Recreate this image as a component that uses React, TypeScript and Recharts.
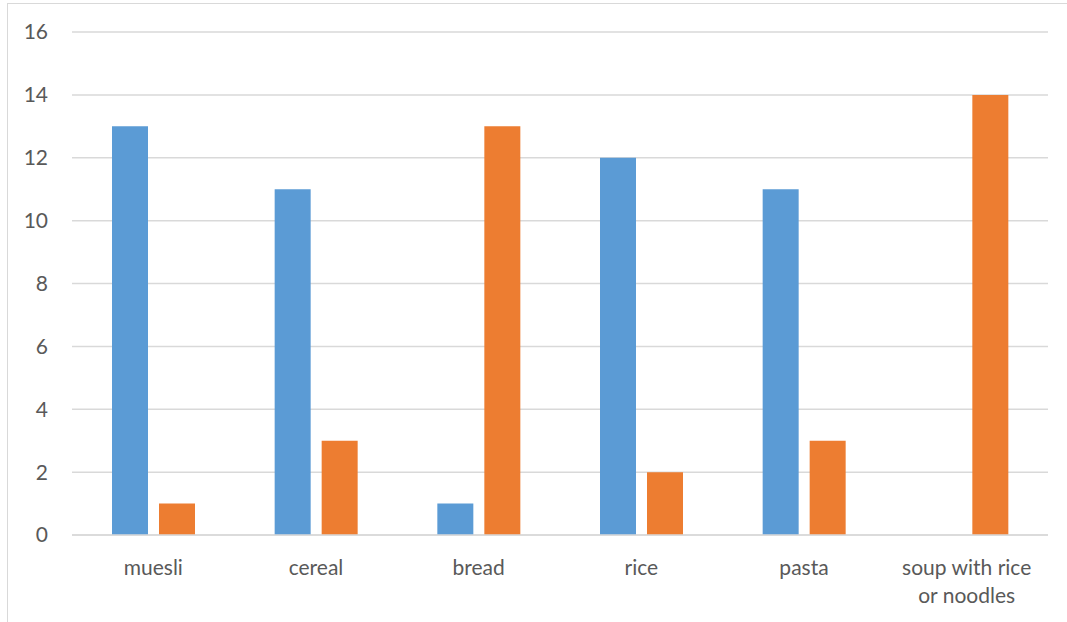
import React from 'react';
import { BarChart, Bar, XAxis, YAxis, CartesianGrid } from 'recharts';

// Foods and the two counts per food
const categories = ['muesli', 'cereal', 'bread', 'rice', 'pasta', 'soup with rice or noodles'];
const seriesA = [13, 11, 1, 12, 11, 0];
const seriesB = [1, 3, 13, 2, 3, 14];
const yTicks = [0, 2, 4, 6, 8, 10, 12, 14, 16];

const data = categories.map((name, i) => ({ name, a: seriesA[i], b: seriesB[i] }));

const FONT = 'Lato, "Open Sans", sans-serif';
const TEXT_COLOR = '#595959';
const MAX_CHARS = 15;

// Greedy word wrap by character count
function wrap(label: string): string[] {
  const lines: string[] = [];
  let cur = '';
  for (const w of label.split(' ')) {
    const next = cur ? cur + ' ' + w : w;
    if (next.length > MAX_CHARS && cur) {
      lines.push(cur);
      cur = w;
    } else {
      cur = next;
    }
  }
  if (cur) lines.push(cur);
  return lines;
}

const CategoryTick = (props: any) => {
  const { x, y, payload } = props;
  const lines = wrap(String(payload.value));
  return (
    <text x={x} y={y} textAnchor="middle" fill={TEXT_COLOR} fontSize={21} fontFamily={FONT}>
      {lines.map((ln, i) => (
        <tspan key={i} x={x} dy={i === 0 ? 15 : 28}>
          {ln}
        </tspan>
      ))}
    </text>
  );
};

export default function App() {
  return (
    <div style={{ position: 'absolute', left: 0, top: 0, width: 1067, height: 622, overflow: 'hidden', background: '#fff' }}>
      <div
        style={{
          position: 'absolute',
          left: 7,
          top: 3,
          width: 1100,
          height: 700,
          border: '1.5px solid #d9d9d9',
          boxSizing: 'border-box',
        }}
      />
      <div style={{ position: 'absolute', left: 0, top: 0 }}>
        <BarChart
          width={1067}
          height={622}
          data={data}
          margin={{ top: 32, right: 19, left: 12, bottom: 27 }}
          barSize={36}
          barGap={11}
        >
          <CartesianGrid horizontal vertical={false} stroke="#d9d9d9" strokeWidth={1.5} />
          <XAxis
            dataKey="name"
            axisLine={{ stroke: '#d9d9d9', strokeWidth: 1.5 }}
            tickLine={false}
            tickSize={0}
            tickMargin={25}
            height={60}
            interval={0}
            tick={(p: any) => <CategoryTick {...p} />}
          />
          <YAxis
            domain={[0, 16]}
            ticks={yTicks}
            axisLine={false}
            tickLine={false}
            tickSize={0}
            tickMargin={24}
            width={60}
            tick={{ fill: TEXT_COLOR, fontSize: 21, fontFamily: FONT }}
          />
          <Bar dataKey="a" fill="#5B9BD5" isAnimationActive={false} />
          <Bar dataKey="b" fill="#ED7D31" isAnimationActive={false} />
        </BarChart>
      </div>
    </div>
  );
}
